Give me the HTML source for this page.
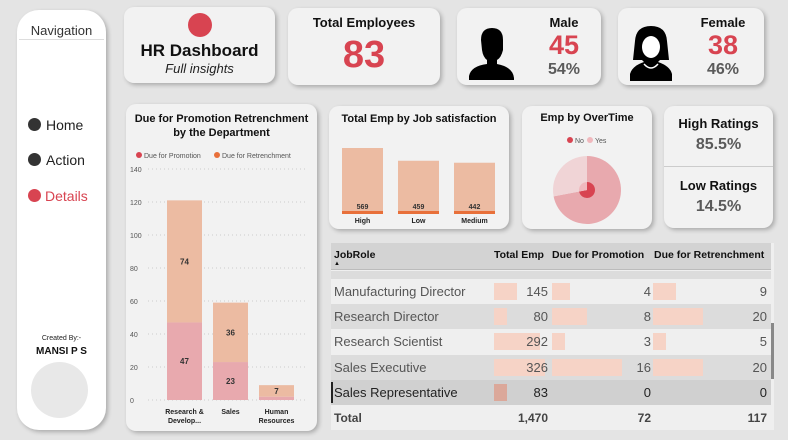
<!DOCTYPE html>
<html><head><meta charset="utf-8">
<style>
*{box-sizing:border-box;margin:0;padding:0}
body{width:788px;height:440px;background:#e4e4e4;font-family:"Liberation Sans",sans-serif;position:relative;overflow:hidden}
.card{position:absolute;background:#f2f2f2;border-radius:10px;box-shadow:2px 2px 4px rgba(0,0,0,.25)}
.abs{position:absolute}
.t{font-weight:bold;color:#111;text-align:center;position:absolute;left:0;right:0}
.big{color:#d84451;font-weight:bold;text-align:center;position:absolute;left:0;right:0}
.grey{color:#5a5a5a;font-weight:bold;text-align:center;position:absolute;left:0;right:0}
</style></head><body>
<div class="card" style="left:17px;top:10px;width:89px;height:420px;background:#fff;border-radius:22px">
  <div class="abs" style="left:0;right:0;top:13px;text-align:center;font-size:13px;color:#333">Navigation</div>
  <div class="abs" style="left:2px;right:2px;top:29px;height:1px;background:#ddd"></div>
  <div class="abs" style="left:11px;top:107px;font-size:14px;color:#222"><span style="display:inline-block;width:13px;height:13px;border-radius:50%;background:#333;vertical-align:-1px;margin-right:5px"></span>Home</div>
  <div class="abs" style="left:11px;top:142px;font-size:14px;color:#222"><span style="display:inline-block;width:13px;height:13px;border-radius:50%;background:#333;vertical-align:-1px;margin-right:5px"></span>Action</div>
  <div class="abs" style="left:11px;top:178px;font-size:14px;color:#d84451"><span style="display:inline-block;width:13px;height:13px;border-radius:50%;background:#d84451;vertical-align:-1px;margin-right:4px"></span>Details</div>
  <div class="abs" style="left:0;right:0;top:325px;text-align:center;font-size:7px;color:#222">Created By:-</div>
  <div class="abs" style="left:0;right:0;top:336px;text-align:center;font-size:10px;font-weight:bold;color:#111">MANSI P S</div>
  <div class="abs" style="left:14px;top:352px;width:57px;height:56px;border-radius:50%;background:#e8e8e8"></div>
</div>

<div class="card" style="left:124px;top:7px;width:151px;height:76px">
  <div class="abs" style="left:64px;top:6px;width:24px;height:24px;border-radius:50%;background:#d84451"></div>
  <div class="t" style="top:34px;font-size:17px">HR Dashboard</div>
  <div class="abs" style="left:0;right:0;top:54px;text-align:center;font-size:13px;font-style:italic;color:#222">Full insights</div>
</div>

<div class="card" style="left:288px;top:8px;width:152px;height:77px">
  <div class="t" style="top:7px;font-size:13px">Total Employees</div>
  <div class="big" style="top:26px;font-size:38px">83</div>
</div>

<div class="card" style="left:457px;top:8px;width:144px;height:77px">
  <svg class="abs" style="left:12px;top:20px" width="46" height="52" viewBox="0 0 46 52"><path d="M12 12 Q12 0 23 0 Q34 0 34 12 L34 22 Q32 30 28 32 L28 36 Q44 39 45 50 L45 52 L0 52 L0 48 Q2 38 18 36 L18 32 Q14 29 13 22 Z" fill="#000"/></svg>
  <div class="t" style="left:70px;right:0;top:7px;font-size:13px">Male</div>
  <div class="big" style="left:70px;right:0;top:22px;font-size:27px">45</div>
  <div class="grey" style="left:70px;right:0;top:53px;font-size:16px">54%</div>
</div>

<div class="card" style="left:618px;top:8px;width:146px;height:77px">
  <svg class="abs" style="left:10px;top:18px" width="46" height="55" viewBox="0 0 46 55"><path d="M23 0 Q8 0 7 15 L5 34 L14 34 L16 36 Q4 40 2 48 L2 55 L44 55 L44 48 Q42 40 30 36 L32 34 L41 34 L39 15 Q38 0 23 0 Z" fill="#000"/><ellipse cx="23" cy="21" rx="9" ry="11" fill="#fff"/><path d="M16 38 Q23 46 30 38" stroke="#fff" stroke-width="1.5" fill="none"/></svg>
  <div class="t" style="left:64px;right:0;top:7px;font-size:13px">Female</div>
  <div class="big" style="left:64px;right:0;top:22px;font-size:27px">38</div>
  <div class="grey" style="left:64px;right:0;top:53px;font-size:16px">46%</div>
</div>

<div class="card" style="left:126px;top:104px;width:191px;height:327px">
  <div class="t" style="top:8px;font-size:11px;line-height:14px">Due for Promotion Retrenchment<br>by the Department</div>
</div>
<svg id="deptChart" class="abs" style="left:126px;top:104px" width="191" height="327"></svg>

<div class="card" style="left:329px;top:106px;width:180px;height:123px">
  <div class="t" style="top:7px;font-size:11px">Total Emp by Job satisfaction</div>
</div>
<svg id="jobChart" class="abs" style="left:329px;top:106px" width="180" height="123"></svg>

<div class="card" style="left:522px;top:106px;width:130px;height:123px">
  <div class="t" style="top:6px;font-size:11px">Emp by OverTime</div>
</div>
<svg id="pieChart" class="abs" style="left:522px;top:106px" width="130" height="123"></svg>

<div class="card" style="left:664px;top:106px;width:109px;height:122px">
  <div class="t" style="top:10px;font-size:13px">High Ratings</div>
  <div class="grey" style="top:30px;font-size:16px">85.5%</div>
  <div class="abs" style="left:0;right:0;top:60px;height:1px;background:#ccc"></div>
  <div class="t" style="top:72px;font-size:13px">Low Ratings</div>
  <div class="grey" style="top:92px;font-size:16px">14.5%</div>
</div>

<div class="abs" style="left:331px;top:243px;width:443px;height:187px;background:#efefef">
  <div class="abs" style="left:0;top:0;width:440px;height:27px;background:#d3d3d3;border-bottom:1px solid #bbb;font-size:10.5px;font-weight:bold;color:#111">
    <div class="abs" style="left:3px;top:6px">JobRole<div style="font-size:6px;line-height:6px">▲</div></div>
    <div class="abs" style="left:163px;top:6px">Total Emp</div>
    <div class="abs" style="left:221px;top:6px">Due for Promotion</div>
    <div class="abs" style="left:323px;top:6px">Due for Retrenchment</div>
  </div>
  <div id="rows"></div>
  <div class="abs" style="left:440px;top:80px;width:3px;height:56px;background:#888"></div>
</div>

<script>
const NS="http://www.w3.org/2000/svg";
function mk(parent,tag,attrs,txt){const e=document.createElementNS(NS,tag);for(const k in attrs)e.setAttribute(k,attrs[k]);if(txt!==undefined)e.textContent=txt;parent.appendChild(e);return e;}

const deptCategories=["Research & Develop...","Sales","Human Resources"];
const deptPromotion=[47,23,2];
const deptRetrench=[74,36,7];
const deptTicks=[0,20,40,60,80,100,120,140];
(function(){
  const s=document.getElementById('deptChart');
  const y0=296,pxPer=231/140,x0=38,step=46,bw=35;
  const y=v=>y0-v*pxPer;
  const lg=mk(s,'g',{});
  
  mk(lg,'circle',{cx:13,cy:51,r:3,fill:'#d84451'});
  mk(lg,'text',{x:18,y:54,'font-size':7,fill:'#555'},'Due for Promotion');
  mk(lg,'circle',{cx:91,cy:51,r:3,fill:'#e8703a'});
  mk(lg,'text',{x:96,y:54,'font-size':7,fill:'#555'},'Due for Retrenchment');
  deptTicks.forEach(t=>{
    mk(s,'line',{x1:22,x2:180,y1:y(t),y2:y(t),stroke:'#ccc','stroke-dasharray':'1,3'});
    const tx=mk(s,'text',{x:4,y:y(t)+3,'font-size':7,fill:'#555'},t);
    
  });
  deptCategories.forEach((c,i)=>{
    const x=x0+i*step+3;
    const r1=mk(s,'rect',{x:x,y:y(deptPromotion[i]),width:bw,height:deptPromotion[i]*pxPer,fill:'#e8a9ae'});
    
    const r2=mk(s,'rect',{x:x,y:y(deptPromotion[i]+deptRetrench[i]),width:bw,height:deptRetrench[i]*pxPer,fill:'#ecbba2'});
    
    if(deptPromotion[i]>5) mk(s,'text',{x:x+bw/2,y:y(deptPromotion[i]/2)+3,'font-size':8,'font-weight':'bold','text-anchor':'middle',fill:'#333'},deptPromotion[i]);
    mk(s,'text',{x:x+bw/2,y:y(deptPromotion[i]+deptRetrench[i]/2)+3,'font-size':8,'font-weight':'bold','text-anchor':'middle',fill:'#333'},deptRetrench[i]);
    const parts=c==="Research & Develop..."?["Research &","Develop..."]:c==="Human Resources"?["Human","Resources"]:[c];
    parts.forEach((p,j)=>{const t=mk(s,'text',{x:x+bw/2,y:310+j*9,'font-size':7,'font-weight':'bold','text-anchor':'middle',fill:'#222'},p);
      });
  });
})();

const jobCategories=["High","Low","Medium"];
const jobValues=[569,459,442];
(function(){
  const s=document.getElementById('jobChart');
  const base=108,maxH=66,bw=41;
  const h=v=>v/569*maxH;
  jobCategories.forEach((c,i)=>{
    const x=13+i*56;
    const r=mk(s,'rect',{x:x,y:base-h(jobValues[i]),width:bw,height:h(jobValues[i]),fill:'#ecbba2'});
    
    mk(s,'rect',{x:x,y:base-3,width:bw,height:3,fill:'#e8703a'});
    mk(s,'text',{x:x+bw/2,y:base-5,'font-size':7,'font-weight':'bold','text-anchor':'middle',fill:'#333'},jobValues[i]);
    const t=mk(s,'text',{x:x+bw/2,y:base+9,'font-size':7,'font-weight':'bold','text-anchor':'middle',fill:'#222'},c);
    
  });
})();

const otLabels=["No","Yes"];
const otValues=[72,28];
(function(){
  const s=document.getElementById('pieChart');
  const lg=mk(s,'g',{});
  mk(lg,'circle',{cx:48,cy:34,r:3,fill:'#d84451'});mk(lg,'text',{x:53,y:37,'font-size':7,fill:'#555'},'No');
  mk(lg,'circle',{cx:68,cy:34,r:3,fill:'#f0b8bd'});mk(lg,'text',{x:73,y:37,'font-size':7,fill:'#555'},'Yes');
  const cx=65,cy=84;
  const tot=otValues.reduce((a,b)=>a+b,0);
  function arc(r,a0,a1){const p=a=>[cx+r*Math.sin(a),cy-r*Math.cos(a)];const [x0,y0]=p(a0),[x1,y1]=p(a1);
    return `M${cx},${cy} L${x0},${y0} A${r},${r} 0 ${a1-a0>Math.PI?1:0} 1 ${x1},${y1} Z`;}
  const outer=['#e8a9ae','#f0d4d6'],inner=['#d84451','#f0b8bd'];
  let a=0;
  otValues.forEach((v,i)=>{const a1=a+v/tot*2*Math.PI;
    const p=mk(s,'path',{d:arc(34,a,a1),fill:outer[i]});
    mk(s,'path',{d:arc(8,a,a1),fill:inner[i]});
    a=a1;});
})();

const roles=["Manufacturing Director","Research Director","Research Scientist","Sales Executive","Sales Representative"];
const totalEmp=[145,80,292,326,83];
const duePromotion=[4,8,3,16,0];
const dueRetrench=[9,20,5,20,0];
(function(){
  const box=document.getElementById('rows');
  const mT=Math.max(...totalEmp),mP=Math.max(...duePromotion),mR=Math.max(...dueRetrench);
  let html=`<div class="abs" style="left:0;top:28px;width:440px;height:9px;background:#dcdcdc"></div>`;
  roles.forEach((r,i)=>{
    const top=36+i*25.2;
    const bg=i===4?'#d0d0d0':(i%2?'#dcdcdc':'#efefef');
    const bc=i===4?'#dba89a':'#f6d3c6';
    html+=`<div class="abs" style="left:0;top:${top}px;width:440px;height:25px;background:${bg};font-size:13px;color:${i===4?'#222':'#555'}">
      ${i===4?'<div class="abs" style="left:0;top:2px;width:2px;height:21px;background:#222"></div>':''}
      <div class="abs" style="left:3px;top:5px">${r}</div>
      <div class="abs" style="left:163px;top:4px;width:${totalEmp[i]/mT*51}px;height:17px;background:${bc}"></div>
      <div class="abs" style="left:160px;width:57px;top:5px;text-align:right">${totalEmp[i]}</div>
      <div class="abs" style="left:221px;top:4px;width:${duePromotion[i]/mP*70}px;height:17px;background:${bc}"></div>
      <div class="abs" style="left:221px;width:99px;top:5px;text-align:right">${duePromotion[i]}</div>
      <div class="abs" style="left:322px;top:4px;width:${dueRetrench[i]/mR*50}px;height:17px;background:${bc}"></div>
      <div class="abs" style="left:322px;width:114px;top:5px;text-align:right">${dueRetrench[i]}</div>
    </div>`;
  });
  html+=`<div class="abs" style="left:0;top:164px;width:440px;height:22px;font-size:12px;font-weight:bold;color:#444">
    <div class="abs" style="left:3px;top:4px">Total</div>
    <div class="abs" style="left:160px;width:57px;top:4px;text-align:right">1,470</div>
    <div class="abs" style="left:221px;width:99px;top:4px;text-align:right">72</div>
    <div class="abs" style="left:322px;width:114px;top:4px;text-align:right">117</div></div>`;
  box.innerHTML=html;
})();
</script>
</body></html>
